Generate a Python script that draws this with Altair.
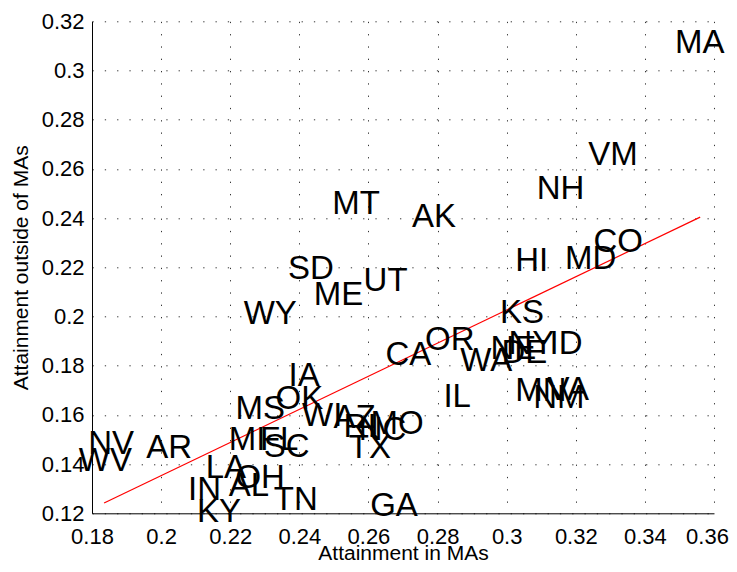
import altair as alt
import pandas as pd

# State labels (as printed in the chart)
states = ["MA", "VM", "NH", "MT", "AK", "CO", "MD", "HI", "SD", "UT",
          "ME", "WY", "KS", "OR", "CA", "WA", "NE", "DE", "NY", "ID",
          "IL", "MN", "NM", "VA", "IA", "OK", "MS", "WI", "AZ", "RI",
          "NC", "MO", "TX", "MI", "FL", "SC", "NV", "WV", "AR", "LA",
          "IN", "KY", "AL", "OH", "TN", "GA"]

# Attainment in MAs (x)
in_ma = [0.3487, 0.3236, 0.3087, 0.2495, 0.2726, 0.3251, 0.3169, 0.3025, 0.2367, 0.2586,
         0.2442, 0.2239, 0.2981, 0.2764, 0.2649, 0.2866, 0.2953, 0.2985, 0.3005, 0.3124,
         0.2817, 0.3025, 0.3077, 0.3118, 0.2369, 0.2331, 0.2215, 0.2408, 0.2499, 0.2528,
         0.2572, 0.2606, 0.2543, 0.2196, 0.2286, 0.2297, 0.1789, 0.1762, 0.1957, 0.2129,
         0.2078, 0.2104, 0.2196, 0.2215, 0.2326, 0.2605]

# Attainment outside of MAs (y)
outside_ma = [0.3112, 0.2655, 0.2518, 0.2459, 0.2404, 0.2303, 0.2235, 0.2226, 0.2192, 0.2144,
              0.2086, 0.2010, 0.2016, 0.1903, 0.1842, 0.1819, 0.1868, 0.1852, 0.1888, 0.1888,
              0.1673, 0.1697, 0.1669, 0.1701, 0.1758, 0.1666, 0.1623, 0.1596, 0.1587, 0.1551,
              0.1539, 0.1563, 0.1465, 0.1498, 0.1498, 0.1470, 0.1480, 0.1413, 0.1465, 0.1384,
              0.1293, 0.1207, 0.1311, 0.1345, 0.1253, 0.1230]

# Fitted line end points
fit_x = [0.1835, 0.3560]
fit_y = [0.1242, 0.2404]

x_ticks = [0.18, 0.20, 0.22, 0.24, 0.26, 0.28, 0.30, 0.32, 0.34, 0.36]
y_ticks = [0.12, 0.14, 0.16, 0.18, 0.20, 0.22, 0.24, 0.26, 0.28, 0.30, 0.32]

df = pd.DataFrame({"state": states, "x": in_ma, "y": outside_ma})
fit = pd.DataFrame({"x": fit_x, "y": fit_y})

FONT = "Liberation Sans"

xscale = alt.Scale(domain=[0.18, 0.36], nice=False, zero=False)
yscale = alt.Scale(domain=[0.12, 0.32], nice=False, zero=False)

def xaxis():
    return alt.Axis(title="Attainment in MAs", values=x_ticks, format=".2~f",
                    grid=True, ticks=False, labelPadding=13, labelFlush=False,
                    labelOverlap=False, titleY=46, titleBaseline="alphabetic",
                    labelOffset={"condition": {"test": "datum.value > 0.355", "value": -7},
                                 "value": 0})

def yaxis():
    return alt.Axis(title="Attainment outside of MAs", values=y_ticks, format=".2~f",
                    grid=True, ticks=False, labelPadding=8, labelFlush=False,
                    labelOverlap=False, titleX=-65, titleY=246,
                    titleBaseline="alphabetic")

line = alt.Chart(fit).mark_line(color="#ff0000", strokeWidth=1.2).encode(
    x=alt.X("x:Q", scale=xscale, axis=xaxis()),
    y=alt.Y("y:Q", scale=yscale, axis=yaxis()),
)

labels = alt.Chart(df).mark_text(
    align="left", baseline="middle", fontSize=33, font=FONT, color="black"
).encode(
    x=alt.X("x:Q", scale=xscale, axis=xaxis()),
    y=alt.Y("y:Q", scale=yscale, axis=yaxis()),
    text="state:N",
)

chart = alt.layer(line, labels).properties(
    width=622, height=492,
    padding={"left": 84, "top": 13.3, "right": 15, "bottom": 50.5},
    autosize=alt.AutoSizeParams(type="none"),
    background="white",
).configure_view(stroke=None).configure_axis(
    labelFont=FONT, labelFontSize=22, labelColor="black",
    titleFont=FONT, titleFontSize=21, titleFontWeight="normal", titleColor="black",
    domainColor="black", domainWidth=1,
    gridColor="black", gridDash=[1.3, 11], gridWidth=1, gridOpacity=0.8,
)

chart.save("out.html", embed_options={"renderer": "svg", "actions": False})
